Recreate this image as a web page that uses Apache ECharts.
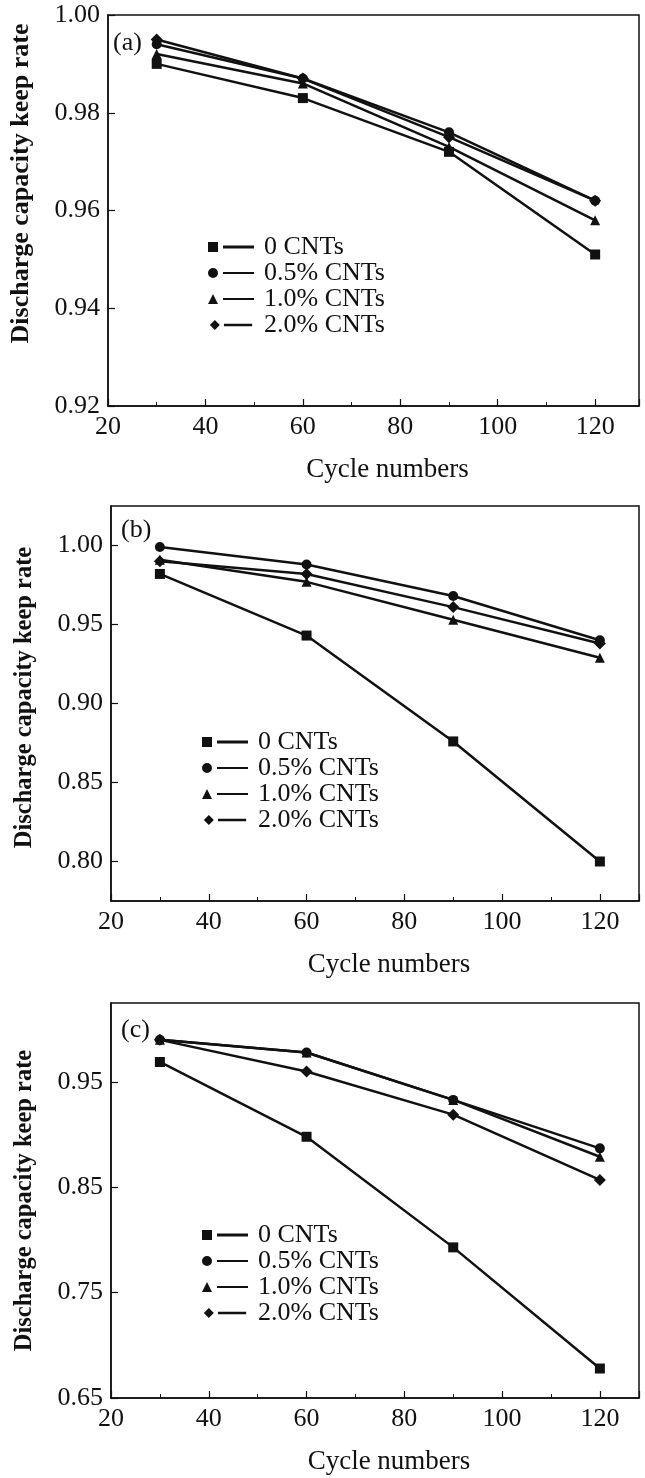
<!DOCTYPE html>
<html>
<head>
<meta charset="utf-8">
<script src="https://cdn.jsdelivr.net/npm/echarts@6/dist/echarts.min.js"></script>
<style>
  html, body { margin: 0; padding: 0; background: #fff; }
  #main { width: 645px; height: 1478px; }
</style>
</head>
<body>
<div id="main"></div>
<script>
// cycle numbers on x axis
const cycles = [30, 60, 90, 120];
const names = ['0 CNTs', '0.5% CNTs', '1.0% CNTs', '2.0% CNTs'];

// panel (a)
const a0 = [0.990, 0.983, 0.972, 0.951];
const a05 = [0.994, 0.987, 0.976, 0.962];
const a10 = [0.992, 0.986, 0.973, 0.958];
const a20 = [0.995, 0.987, 0.975, 0.962];
const aTicks = [0.92, 0.94, 0.96, 0.98, 1.00];

// panel (b)
const b0 = [0.982, 0.943, 0.876, 0.800];
const b05 = [0.999, 0.988, 0.968, 0.940];
const b10 = [0.991, 0.977, 0.953, 0.929];
const b20 = [0.990, 0.982, 0.961, 0.938];
const bTicks = [0.80, 0.85, 0.90, 0.95, 1.00];

// panel (c)
const c0 = [0.969, 0.898, 0.793, 0.678];
const c05 = [0.990, 0.978, 0.933, 0.887];
const c10 = [0.990, 0.978, 0.933, 0.879];
const c20 = [0.990, 0.960, 0.919, 0.857];
const cTicks = [0.65, 0.75, 0.85, 0.95];

const xLabels = [20, 40, 60, 80, 100, 120];

const font = 'Liberation Serif';
const ink = '#111';

// marker + dash icons for the legend
const icons = [
  'path://M0,0h10v10h-10z M15,3.6h31v2.8h-31z',
  'path://M0,5a5,5 0 1,0 10,0a5,5 0 1,0 -10,0z M15,4h31v2h-31z',
  'path://M0,10L5,0L10,10z M15,4h31v2h-31z',
  'path://M5,-0.5L10.5,5L5,10.5L-0.5,5z M15,3.6h31v2.8h-31z'
];
const symbols = ['rect', 'circle', 'triangle', 'diamond'];
const symSizes = [10, 10, 10, 12];

const panels = [
  { data: [a0, a05, a10, a20], ticks: aTicks, min: 0.92, max: 1.00, xmax: 129,
    grid: { left: 108, top: 15, width: 531, height: 391 },
    tag: '(a)', tagPos: [113, 30], legendPos: [203, 229], titleSize: 26, namePad: [0, 0, 0, 54] },
  { data: [b0, b05, b10, b20], ticks: bTicks, min: 0.775, max: 1.025, xmax: 128,
    grid: { left: 111, top: 506, width: 528, height: 395 },
    tag: '(b)', tagPos: [121, 517], legendPos: [197, 724], titleSize: 24.5, namePad: [0, 0, 0, 12] },
  { data: [c0, c05, c10, c20], ticks: cTicks, min: 0.65, max: 1.025, xmax: 128,
    grid: { left: 111, top: 1003, width: 528, height: 395 },
    tag: '(c)', tagPos: [121, 1017], legendPos: [197, 1217], titleSize: 24.5, namePad: [0, 0, 0, 0] }
];

const grid = [], xAxis = [], yAxis = [], series = [], legend = [], graphic = [];

panels.forEach((p, i) => {
  grid.push(Object.assign({ show: true, borderColor: ink, borderWidth: 1.5, backgroundColor: 'transparent' }, p.grid));
  xAxis.push({
    type: 'value', gridIndex: i, min: 20, max: p.xmax, interval: 20,
    name: 'Cycle numbers', nameLocation: 'middle', nameGap: 50,
    nameTextStyle: { fontFamily: font, fontSize: 27, color: ink, padding: [0, 0, 0, 28] },
    axisLine: { lineStyle: { color: ink, width: 1.5 } },
    axisTick: { inside: true, length: 7, lineStyle: { color: ink, width: 1.2 } },
    minorTick: { show: true, splitNumber: 2, length: 4, lineStyle: { color: ink } },
    splitLine: { show: false },
    axisLabel: { fontFamily: font, fontSize: 26, color: ink, margin: 8, showMaxLabel: false,
      formatter: v => (xLabels.indexOf(v) >= 0 ? String(v) : '') }
  });
  yAxis.push({
    type: 'value', gridIndex: i, min: p.min, max: p.max,
    name: 'Discharge capacity keep rate', nameLocation: 'middle', nameGap: 74,
    nameTextStyle: { fontFamily: font, fontSize: p.titleSize, fontWeight: 'bold', color: ink, padding: p.namePad },
    axisLine: { lineStyle: { color: ink, width: 1.5 } },
    axisTick: { inside: true, length: 7, customValues: p.ticks, lineStyle: { color: ink, width: 1.2 } },
    splitLine: { show: false },
    axisLabel: { fontFamily: font, fontSize: 26, color: ink, margin: 8, customValues: p.ticks,
      formatter: v => v.toFixed(2) }
  });
  p.data.forEach((vals, k) => {
    series.push({
      type: 'line', name: names[k], xAxisIndex: i, yAxisIndex: i,
      data: cycles.map((c, j) => [c, vals[j]]),
      symbol: symbols[k], symbolSize: symSizes[k],
      lineStyle: { color: ink, width: 2.5 },
      itemStyle: { color: ink },
      z: 2 + k, animation: false
    });
  });
  legend.push({
    orient: 'vertical', left: p.legendPos[0], top: p.legendPos[1],
    itemWidth: 46, itemHeight: 10, itemGap: 0, selectedMode: false,
    textStyle: { fontFamily: font, fontSize: 26, lineHeight: 25.5, color: ink, padding: [0, 0, 0, 5] },
    data: names.map((n, k) => ({ name: n, icon: icons[k] }))
  });
  graphic.push({
    type: 'text', left: p.tagPos[0], top: p.tagPos[1],
    style: { text: p.tag, fontFamily: font, fontSize: 26, fill: ink }
  });
});

const chart = echarts.init(document.getElementById('main'));
chart.setOption({
  backgroundColor: '#fff',
  animation: false,
  grid, xAxis, yAxis, series, legend, graphic
});
</script>
</body>
</html>
